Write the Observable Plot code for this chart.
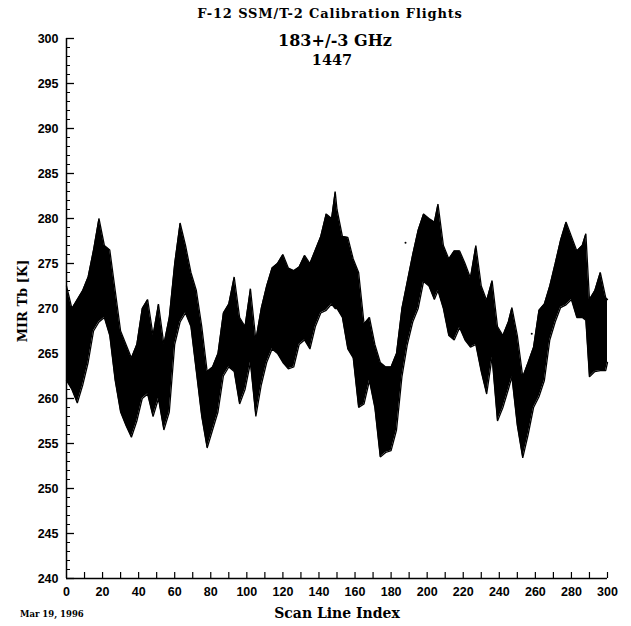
<!DOCTYPE html>
<html>
<head>
<meta charset="utf-8">
<script src="https://cdn.jsdelivr.net/npm/d3@7"></script>
<script src="https://cdn.jsdelivr.net/npm/@observablehq/plot@0.6"></script>
<style>
  html, body { margin: 0; padding: 0; background: #fff; }
  #wrap { position: relative; width: 631px; height: 626px; overflow: hidden; }
  .t { position: absolute; white-space: nowrap; color: #000; transform: translateX(-50%); }
</style>
</head>
<body>
<div id="wrap">
  <div id="chart"></div>
  <div class="t" style="left:330px; top:6px; font:bold 13px 'DejaVu Serif'; letter-spacing:0.85px;">F-12 SSM/T-2 Calibration Flights</div>
  <div class="t" style="left:335px; top:31px; font:bold 16px 'DejaVu Serif'; font-weight:600;">183+/-3 GHz</div>
  <div class="t" style="left:332px; top:51px; font:bold 14.5px 'DejaVu Serif';">1447</div>
  <div class="t" style="left:22px; top:301px; font:bold 13px 'DejaVu Serif'; transform: translate(-50%,-50%) rotate(-90deg);">MIR Tb [K]</div>
  <div class="t" style="left:337px; top:605px; font:bold 14px 'DejaVu Serif';">Scan Line Index</div>
  <div style="position:absolute; left:20px; top:609px; font:bold 8.5px 'DejaVu Serif'; white-space:nowrap;">Mar 19, 1996</div>
</div>
<script>
// Scan line index where band envelope was read
const scanIndex = [0,3,6,9,12,15,18,21,24,27,30,33,36,39,42,45,48,51,54,57,60,63,66,69,72,75,78,81,84,87,90,93,96,99,102,105,108,111,114,117,120,123,126,129,132,135,138,141,144,147,149,150,153,156,159,162,165,168,171,174,177,180,183,186,189,192,195,198,201,204,206,209,212,215,218,221,224,227,230,233,236,239,242,245,247,250,253,256,259,262,265,268,271,274,277,280,283,286,288,290,293,296,299,300];
// Upper edge of the bundle of scan-position traces [K]
const upperTb = [272.5,270,271,272,273.5,276.5,280,277,276.5,272,267.5,266,264.5,266,270,271,267,270.5,266,269,275,279.5,277,274,272,268,263,263.5,265,269.5,270.5,273.5,269,268,272.2,266.5,270,272.5,274.5,275,276,274.5,274.2,274.6,275.9,275,276.5,278,280.5,280,283,281,278,277.9,275.5,274,268.3,269,266,264,263.5,263.5,265,270,273,276,278.7,280.5,280,279.6,281.6,277,275.5,276.4,276.4,275,273.4,277,272.5,270.9,273.1,268,267,268.5,270.1,267,262.4,264,265.7,269.8,270.5,272.5,275,277.6,279.6,278,276.4,277,278.3,271,272,274,271.2,271];
// Lower edge of the bundle [K]
const lowerTb = [262,261,259.5,261.5,264,267.5,268.5,269,267,262,258.5,257,255.7,257.5,260,260.5,258,260,256.5,258.5,266,268.5,269.5,268,263,258,254.5,256.5,258.5,262.5,263.5,263,259.4,261,264,258,261.5,264,265.5,265,264,263.3,263.5,266,266.5,265.5,268,269.5,269.8,270.5,270,270,269,265.5,264.5,259,259.4,262,259,253.5,254,254.2,256.5,262.4,266,268.5,270,273,272.5,271,272,270,267,266.5,267.9,266.5,265.7,266,263,260.5,264.6,257.5,259,261,262.4,257,253.4,256,259,260.2,262,266.5,268.5,270.1,270.4,271,269,269,268.7,262.4,263,263.1,263.1,264];
// Isolated stray samples
const strayScan = [188, 258];
const strayTb = [277.3, 267.2];
// Axis ticks
const yMajorTicks = [240,245,250,255,260,265,270,275,280,285,290,295,300];
const yMinorTicks = d3.range(240, 301, 1);
const xMajorTicks = [0,20,40,60,80,100,120,140,160,180,200,220,240,260,280,300];
const xMinorTicks = d3.range(10, 301, 10);

const n = Math.min(scanIndex.length, upperTb.length, lowerTb.length);
const rows = d3.range(n).map(i => ({scan: scanIndex[i], upper: upperTb[i], lower: lowerTb[i]}));
const stray = strayScan.map((s, i) => ({scan: s, tb: strayTb[i]}));

const W = 631, H = 626, mL = 66, mR = 24, mT = 38, mB = 48;
const fw = W - mL - mR, fh = H - mT - mB;

const chart = Plot.plot({
  width: W, height: H,
  marginLeft: mL, marginRight: mR, marginTop: mT, marginBottom: mB,
  x: {domain: [0, 300]},
  y: {domain: [240, 300]},
  style: {fontFamily: "'Liberation Sans', Arial, sans-serif", fontSize: "12.5px", fontWeight: "bold", color: "#000", background: "#fff"},
  marks: [
    Plot.areaY(rows, {x: "scan", y1: "lower", y2: "upper", fill: "#000"}),
    Plot.line(rows, {x: "scan", y: "upper", stroke: "#000", strokeWidth: 1.3, strokeLinejoin: "miter"}),
    Plot.line(rows, {x: "scan", y: "lower", stroke: "#000", strokeWidth: 1.3, strokeLinejoin: "miter"}),
    Plot.dot(stray, {x: "scan", y: "tb", r: 1, fill: "#000", stroke: null}),
    Plot.ruleY(yMinorTicks, {stroke: "#000", strokeWidth: 1, insetRight: fw - 4}),
    Plot.ruleY(yMajorTicks, {stroke: "#000", strokeWidth: 1.3, insetRight: fw - 8}),
    Plot.ruleX(xMinorTicks, {stroke: "#000", strokeWidth: 1.2, insetTop: fh - 6}),
    Plot.ruleX([0], {stroke: "#000", strokeWidth: 1.5}),
    Plot.ruleY([240], {stroke: "#000", strokeWidth: 1.5}),
    Plot.axisY({ticks: yMajorTicks, tickSize: 0, tickPadding: 8, label: null, tickFormat: d => String(d)}),
    Plot.axisX({ticks: xMajorTicks, tickSize: 0, tickPadding: 9, label: null, tickFormat: d => String(d)})
  ]
});
document.getElementById("chart").appendChild(chart);
</script>
</body>
</html>
